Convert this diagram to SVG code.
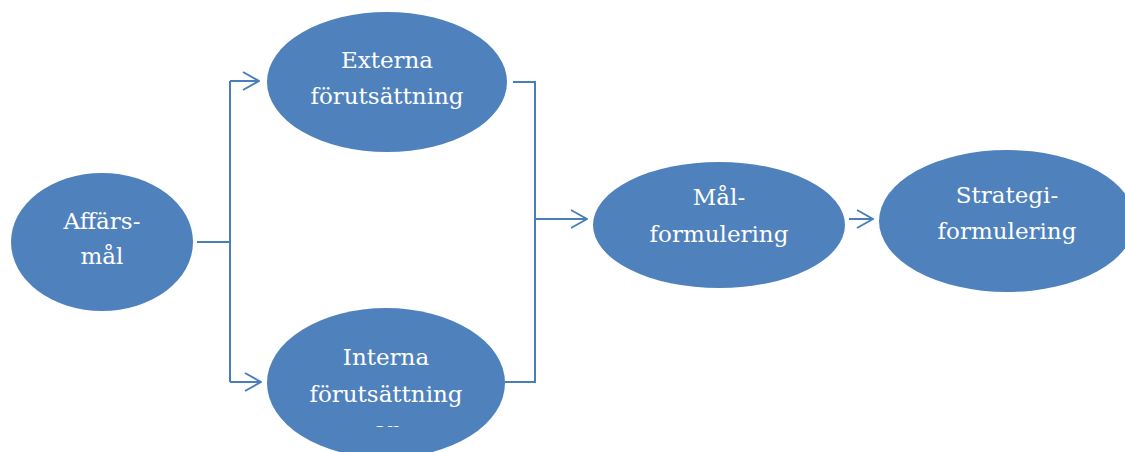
<svg xmlns="http://www.w3.org/2000/svg" width="1125" height="452" viewBox="0 0 1125 452">
<style>
.node{fill:#4F81BD;}
.lbl{fill:#FFFFFF;font-family:"DejaVu Serif","Liberation Serif",serif;font-size:23px;text-anchor:middle;}
.conn{fill:none;stroke:#4A7EBB;stroke-width:2;}
</style>
<defs>
<marker id="arr" viewBox="0 0 20 20" refX="19" refY="10" markerWidth="20" markerHeight="20" markerUnits="userSpaceOnUse" orient="auto">
<path d="M3,1 L19,10 L3,19" fill="none" stroke="#4A7EBB" stroke-width="2"/>
</marker>
<clipPath id="clipInt"><rect x="260" y="300" width="280" height="127"/></clipPath>
</defs>
<rect width="1125" height="452" fill="#FFFFFF"/>
<g id="connectors">
<path class="conn" d="M197,242 H230"/>
<path class="conn" d="M230,81 V382"/>
<path class="conn" d="M230,81 H259" marker-end="url(#arr)"/>
<path class="conn" d="M230,382 H261" marker-end="url(#arr)"/>
<path class="conn" d="M513,82 H535 V382 H505"/>
<path class="conn" d="M535,219 H587" marker-end="url(#arr)"/>
<path class="conn" d="M849,219 H873" marker-end="url(#arr)"/>
</g>
<g id="affarsmal">
<ellipse class="node" cx="102" cy="242" rx="91" ry="69"/>
<text class="lbl" x="102" y="229">Affärs-</text>
<text class="lbl" x="102" y="264">mål</text>
</g>
<g id="externa">
<ellipse class="node" cx="387" cy="82" rx="120" ry="70"/>
<text class="lbl" x="387" y="68">Externa</text>
<text class="lbl" x="387" y="104">förutsättning</text>
</g>
<g id="interna">
<ellipse class="node" cx="386" cy="383" rx="119" ry="75"/>
<text class="lbl" x="386" y="365">Interna</text>
<text class="lbl" x="386" y="402">förutsättning</text>
<text class="lbl" x="386" y="438" clip-path="url(#clipInt)">ar</text>
</g>
<g id="malformulering">
<ellipse class="node" cx="719" cy="225" rx="126" ry="63"/>
<text class="lbl" x="719" y="205">Mål-</text>
<text class="lbl" x="719" y="242">formulering</text>
</g>
<g id="strategiformulering">
<ellipse class="node" cx="1007" cy="221" rx="128" ry="71"/>
<text class="lbl" x="1007" y="203">Strategi-</text>
<text class="lbl" x="1007" y="239">formulering</text>
</g>
</svg>
